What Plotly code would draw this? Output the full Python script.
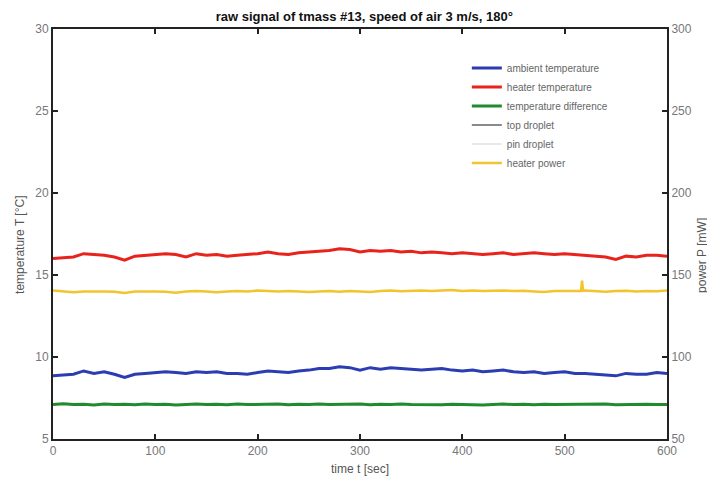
import plotly.graph_objects as go

time_s = list(range(0, 601, 10))

heater_temp = [16.0, 16.05, 16.1, 16.3, 16.25, 16.2, 16.1, 15.9, 16.15, 16.2,
               16.25, 16.3, 16.25, 16.1, 16.3, 16.2, 16.25, 16.15, 16.2, 16.25,
               16.3, 16.4, 16.3, 16.25, 16.35, 16.4, 16.45, 16.5, 16.6, 16.55,
               16.4, 16.5, 16.45, 16.5, 16.4, 16.45, 16.35, 16.4, 16.35, 16.3,
               16.35, 16.3, 16.25, 16.3, 16.35, 16.25, 16.3, 16.35, 16.3, 16.25,
               16.3, 16.25, 16.2, 16.15, 16.1, 15.95, 16.15, 16.1, 16.2, 16.2, 16.15]

ambient_temp = [8.85, 8.9, 8.95, 9.15, 9.0, 9.1, 8.95, 8.75, 8.95, 9.0,
                9.05, 9.1, 9.05, 9.0, 9.1, 9.05, 9.1, 9.0, 9.0, 8.95,
                9.05, 9.15, 9.1, 9.05, 9.15, 9.2, 9.3, 9.3, 9.4, 9.35,
                9.2, 9.35, 9.25, 9.35, 9.3, 9.25, 9.2, 9.25, 9.3, 9.2,
                9.15, 9.2, 9.1, 9.15, 9.2, 9.1, 9.05, 9.1, 9.0, 9.05,
                9.1, 9.0, 9.0, 8.95, 8.9, 8.85, 9.0, 8.95, 8.95, 9.05, 9.0]

temp_difference = [7.1, 7.15, 7.1, 7.12, 7.08, 7.14, 7.1, 7.12, 7.09, 7.13,
                   7.1, 7.12, 7.08, 7.11, 7.13, 7.1, 7.12, 7.09, 7.14, 7.1,
                   7.12, 7.1, 7.13, 7.09, 7.12, 7.1, 7.14, 7.11, 7.12, 7.1,
                   7.13, 7.09, 7.12, 7.1, 7.14, 7.11, 7.1, 7.13, 7.09, 7.12,
                   7.1, 7.12, 7.08, 7.11, 7.13, 7.1, 7.12, 7.09, 7.12, 7.1,
                   7.11, 7.09, 7.12, 7.1, 7.13, 7.09, 7.11, 7.1, 7.12, 7.1, 7.11]

power_t = list(range(0, 511, 10)) + [516, 517, 518] + list(range(520, 601, 10))
heater_power = [140.5, 140, 139.5, 140, 140.2, 140, 139.8, 139, 140, 140.2,
                140, 139.8, 139.2, 140, 140.3, 140, 139.5, 140, 140.3, 140,
                140.5, 140.2, 140, 140.3, 140, 139.6, 140, 140.3, 139.8, 140.2,
                140, 139.7, 140.2, 140.5, 140.1, 140.3, 140.6, 140.2, 140.4, 140.8,
                140.3, 140.5, 140.2, 140.4, 140.6, 140.2, 140.4, 140, 139.7, 140.2,
                140.4, 140.3,
                140.3, 146.5, 140.3,
                140.5, 140.2, 139.8, 140.2, 140.4, 140, 140.3, 140.1, 140.5]

x_ticks = [0, 100, 200, 300, 400, 500, 600]
t_ticks = [5, 10, 15, 20, 25, 30]
p_ticks = [50, 100, 150, 200, 250, 300]

fig = go.Figure()
fig.add_trace(go.Scatter(x=time_s, y=ambient_temp, name="ambient temperature",
                         mode="lines", line=dict(color="#2b3db0", width=3)))
fig.add_trace(go.Scatter(x=time_s, y=heater_temp, name="heater temperature",
                         mode="lines", line=dict(color="#e8231c", width=3)))
fig.add_trace(go.Scatter(x=time_s, y=temp_difference, name="temperature difference",
                         mode="lines", line=dict(color="#1f8a2e", width=3)))
fig.add_trace(go.Scatter(x=[None], y=[None], name="top droplet",
                         mode="lines", line=dict(color="#8a8a8a", width=2)))
fig.add_trace(go.Scatter(x=[None], y=[None], name="pin droplet",
                         mode="lines", line=dict(color="#e8e8e8", width=2)))
fig.add_trace(go.Scatter(x=power_t, y=heater_power, name="heater power", yaxis="y2",
                         mode="lines", line=dict(color="#f2c42e", width=2.5)))

FONT = "Liberation Sans, Arial"
tickfont = dict(family=FONT, size=12, color="#777777")
titlefont = dict(family=FONT, size=12, color="#555555")
axis_common = dict(showgrid=False, zeroline=False, showline=True, linecolor="#222222",
                   linewidth=2, ticks="inside", ticklen=5, tickwidth=2, tickcolor="#222222",
                   tickfont=tickfont, automargin=False)

fig.update_layout(
    width=707, height=472,
    margin=dict(l=45, r=48, t=21, b=41, autoexpand=False),
    paper_bgcolor="white", plot_bgcolor="white",
    title=dict(text="<b>raw signal of tmass #13, speed of air 3 m/s, 180°</b>",
               x=0.504, xanchor="center", xref="container",
               y=1 - 4 / 472, yanchor="top", yref="container",
               font=dict(family=FONT, size=13, color="#111111")),
    xaxis=dict(range=[0, 600], tickvals=x_ticks, mirror="ticks", **axis_common),
    yaxis=dict(range=[5, 30], tickvals=t_ticks, **axis_common),
    yaxis2=dict(range=[50, 300], tickvals=p_ticks, overlaying="y", side="right",
                **axis_common),
    legend=dict(x=0.674, y=0.94, xanchor="left", yanchor="top",
                bgcolor="rgba(255,255,255,0)", borderwidth=0,
                font=dict(family=FONT, size=10, color="#666666"),
                tracegroupgap=0),
    showlegend=True,
    annotations=[
        dict(text="time t [sec]", xref="paper", yref="paper", x=0.5, y=-0.073,
             xanchor="center", yanchor="middle", showarrow=False, font=titlefont),
        dict(text="temperature T [°C]", xref="paper", yref="paper", x=-0.054, y=0.473,
             xanchor="center", yanchor="middle", textangle=-90, showarrow=False,
             font=titlefont),
        dict(text="power P [mW]", xref="paper", yref="paper", x=1.057, y=0.449,
             xanchor="center", yanchor="middle", textangle=-90, showarrow=False,
             font=titlefont),
    ],
)

fig.write_html("out.html")
